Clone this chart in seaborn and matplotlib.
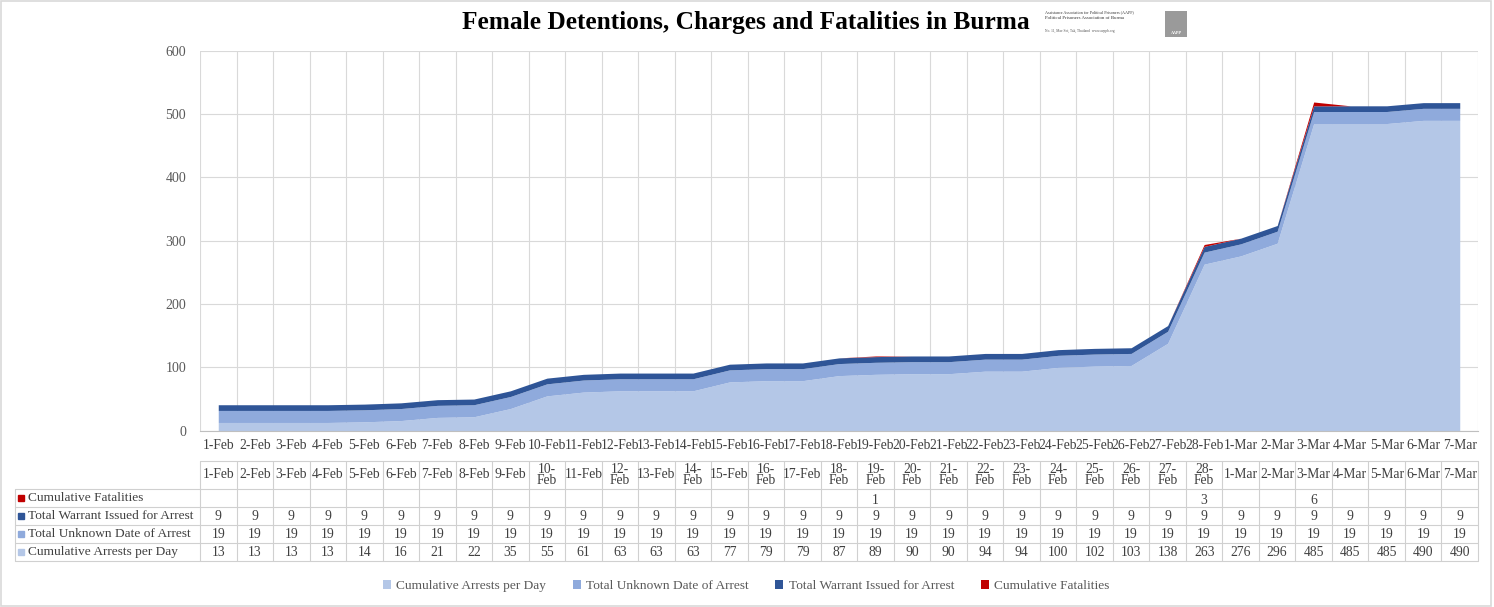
import matplotlib
matplotlib.use('Agg')
import matplotlib.pyplot as plt
from matplotlib.patches import Patch, Rectangle
import seaborn as sns

# chart data
dates = ['1-Feb', '2-Feb', '3-Feb', '4-Feb', '5-Feb', '6-Feb', '7-Feb', '8-Feb', '9-Feb',
         '10-Feb', '11-Feb', '12-Feb', '13-Feb', '14-Feb', '15-Feb', '16-Feb', '17-Feb',
         '18-Feb', '19-Feb', '20-Feb', '21-Feb', '22-Feb', '23-Feb', '24-Feb', '25-Feb',
         '26-Feb', '27-Feb', '28-Feb', '1-Mar', '2-Mar', '3-Mar', '4-Mar', '5-Mar',
         '6-Mar', '7-Mar']
table_headers = ['1-Feb', '2-Feb', '3-Feb', '4-Feb', '5-Feb', '6-Feb', '7-Feb', '8-Feb', '9-Feb',
                 '10-\nFeb', '11-Feb', '12-\nFeb', '13-Feb', '14-\nFeb', '15-Feb', '16-\nFeb', '17-Feb',
                 '18-\nFeb', '19-\nFeb', '20-\nFeb', '21-\nFeb', '22-\nFeb', '23-\nFeb', '24-\nFeb',
                 '25-\nFeb', '26-\nFeb', '27-\nFeb', '28-\nFeb', '1-Mar', '2-Mar', '3-Mar', '4-Mar',
                 '5-Mar', '6-Mar', '7-Mar']
arrests = [13, 13, 13, 13, 14, 16, 21, 22, 35, 55, 61, 63, 63, 63, 77, 79, 79, 87, 89, 90,
           90, 94, 94, 100, 102, 103, 138, 263, 276, 296, 485, 485, 485, 490, 490]
unknown = [19, 19, 19, 19, 19, 19, 19, 19, 19, 19, 19, 19, 19, 19, 19, 19, 19, 19, 19, 19,
           19, 19, 19, 19, 19, 19, 19, 19, 19, 19, 19, 19, 19, 19, 19]
warrant = [9, 9, 9, 9, 9, 9, 9, 9, 9, 9, 9, 9, 9, 9, 9, 9, 9, 9, 9, 9,
           9, 9, 9, 9, 9, 9, 9, 9, 9, 9, 9, 9, 9, 9, 9]
fatalities = [None, None, None, None, None, None, None, None, None, None, None, None,
              None, None, None, None, None, None, 1, None, None, None, None, None,
              None, None, None, 3, None, None, 6, None, None, None, None]

series_names = ['Cumulative Arrests per Day', 'Total Unknown Date of Arrest',
                'Total Warrant Issued for Arrest', 'Cumulative Fatalities']
colors = ['#B4C7E7', '#8FAADC', '#2F5597', '#C00000']

sns.set_theme(style='white')
plt.rcParams['font.family'] = ['Liberation Serif', 'DejaVu Serif']

W, H = 1494, 607
fig = plt.figure(figsize=(W / 100, H / 100), dpi=100)

# main plot area (pixel box 200..1478 x 50.7..430.7)
left, right, top, bottom = 200, 1478, 50.7, 430.7
ax = fig.add_axes([left / W, 1 - bottom / H, (right - left) / W, (bottom - top) / H])

x = list(range(len(dates)))
fat_area = [0 if v is None else v for v in fatalities]  # blanks plot as zero
ax.stackplot(x, arrests, unknown, warrant, fat_area, colors=colors, linewidth=0,
             labels=series_names, zorder=2)

ax.set_xlim(-0.5, len(dates) - 0.5)
ax.set_ylim(0, 600)
ax.set_yticks(range(0, 601, 100))
ax.set_xticks(x)
ax.set_xticklabels(dates)
ax.set_xticks([i - 0.5 for i in range(len(dates) + 1)], minor=True)
ax.grid(True, which='minor', axis='x', color='#D9D9D9', linewidth=0.8, zorder=0)
ax.grid(True, which='major', axis='y', color='#D9D9D9', linewidth=0.8, zorder=0)
ax.tick_params(axis='x', which='major', length=0, labelsize=9.8, labelcolor='#404040', pad=6)
ax.tick_params(axis='x', which='minor', length=5, color='#BFBFBF', width=0.8, direction='out')
ax.tick_params(axis='y', length=0, labelsize=10, labelcolor='#595959', pad=10)
for s in ['top', 'right', 'left']:
    ax.spines[s].set_visible(False)
ax.spines['bottom'].set_color('#BFBFBF')
ax.spines['bottom'].set_linewidth(0.8)

# data table under the chart
t_top, t_bot = 461, 561
tax = fig.add_axes([left / W, 1 - t_bot / H, (right - left) / W, (t_bot - t_top) / H])
tax.set_xlim(-0.5, len(dates) - 0.5)
tax.set_ylim(t_bot - t_top, 0)
tax.axis('off')
col_w = (right - left) / len(dates)
lab_x = -0.5 - (left - 15) / col_w
line_kw = dict(color='#D0D0D0', linewidth=0.8, clip_on=False)
row_edges = [28, 46, 64, 82, 100]
tax.plot([-0.5, len(dates) - 0.5], [0, 0], **line_kw)
for y in row_edges:
    tax.plot([lab_x, len(dates) - 0.5], [y, y], **line_kw)
for k in range(len(dates) + 1):
    tax.plot([k - 0.5, k - 0.5], [0, 100], **line_kw)
tax.plot([lab_x, lab_x], [28, 100], **line_kw)

txt_color = '#404040'
for i, h in enumerate(table_headers):
    tax.text(i, 14, h, ha='center', va='center', fontsize=9.8, color=txt_color,
             linespacing=0.85, clip_on=False)

rows = [
    ('Cumulative Fatalities', fatalities, colors[3]),
    ('Total Warrant Issued for Arrest', warrant, colors[2]),
    ('Total Unknown Date of Arrest', unknown, colors[1]),
    ('Cumulative Arrests per Day', arrests, colors[0]),
]
for r, (name, vals, c) in enumerate(rows):
    y0, y1 = row_edges[r], row_edges[r + 1]
    yc = (y0 + y1) / 2
    tax.plot([lab_x + 6 / col_w], [yc], marker='s', markersize=5, color=c,
             linestyle='none', clip_on=False)
    tax.text(lab_x + 13 / col_w, yc, name, ha='left', va='center', fontsize=9.6,
             color=txt_color, clip_on=False)
    for i, v in enumerate(vals):
        if v is None:
            continue
        yy = yc + 2 if r == 0 else yc
        tax.text(i, yy, str(v), ha='center', va='center', fontsize=9.8,
                 color=txt_color, clip_on=False)

# title and small organisation block
fig.text(746 / W, 1 - 23 / H, 'Female Detentions, Charges and Fatalities in Burma',
         ha='center', va='center', fontsize=18.3, fontweight='bold', color='black')
fig.text(1045 / W, 1 - 12 / H, 'Assistance Association for Political Prisoners (AAPP)',
         ha='left', va='center', fontsize=3, color='#333333')
fig.text(1045 / W, 1 - 18 / H, 'Political Prisoners Association of Burma',
         ha='left', va='center', fontsize=3.5, color='#333333')
fig.text(1045 / W, 1 - 31 / H, 'No. 11, Mae Sot, Tak, Thailand  www.aappb.org',
         ha='left', va='center', fontsize=2.6, color='#555555')
fig.patches.append(Rectangle((1165 / W, 1 - 37 / H), 22 / W, 26 / H,
                             transform=fig.transFigure, facecolor='#9A9A9A',
                             edgecolor='none'))
fig.text(1176 / W, 1 - 33 / H, 'AAPP', ha='center', va='center', fontsize=3,
         color='white', fontweight='bold')

# legend
handles = [Patch(facecolor=c, edgecolor='none', label=n) for c, n in zip(colors, series_names)]
fig.legend(handles=handles, loc='center', bbox_to_anchor=(746 / W, 1 - 586 / H), ncol=4,
           frameon=False, fontsize=9.6, handlelength=0.6, handleheight=0.6,
           handletextpad=0.4, columnspacing=2.0, labelcolor='#595959')

# chart border
fig.patches.append(Rectangle((0.001, 0.002), 0.997, 0.996, transform=fig.transFigure,
                             facecolor='none', edgecolor='#D9D9D9', linewidth=1.2))

fig.savefig('out.png', dpi=100)
